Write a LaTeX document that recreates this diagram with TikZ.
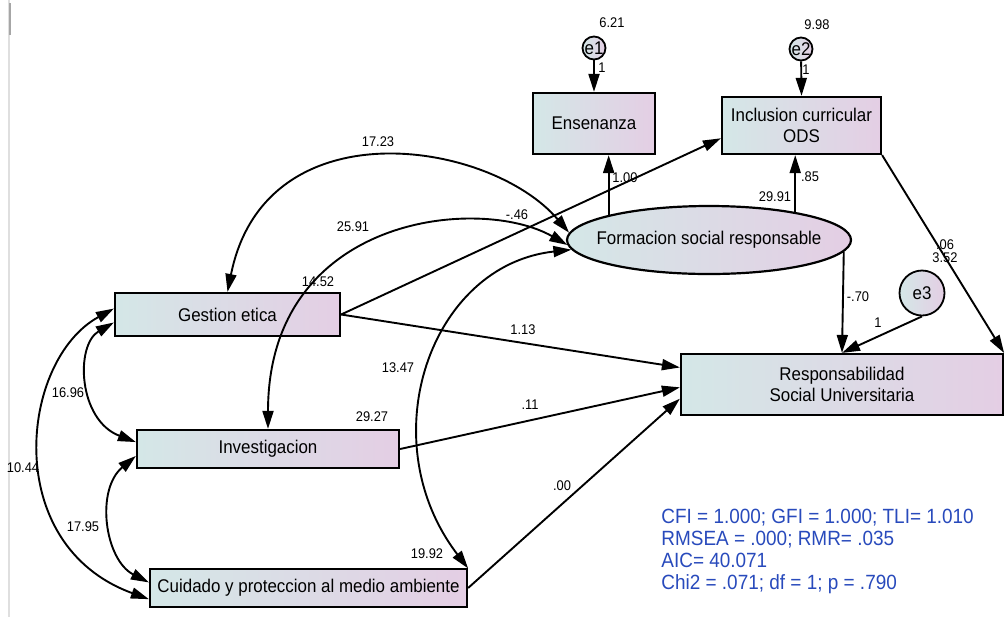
\documentclass[tikz,border=0pt]{standalone}
\usepackage{fontspec}
\setmainfont[FakeStretch=0.92]{Liberation Sans}
\usetikzlibrary{arrows.meta,shapes.geometric}

\definecolor{boxleft}{RGB}{212,231,231}
\definecolor{boxright}{RGB}{228,206,228}
\definecolor{fitblue}{RGB}{40,74,188}

\tikzset{
  obs/.style={draw, line width=1.1pt, left color=boxleft, right color=boxright,
    inner sep=0pt, align=center, font=\fontsize{9.2}{10.6}\selectfont},
  err/.style={circle, draw, line width=0.9pt, left color=boxleft, right color=boxright,
    inner sep=0pt, font=\fontsize{9.2}{10}\selectfont},
  num/.style={inner sep=0pt, font=\fontsize{7}{7.5}\selectfont},
  reg/.style={line width=0.95pt, -{Triangle[length=9pt,width=5.5pt]}},
  cov/.style={line width=0.95pt, {Triangle[length=9pt,width=5.5pt]}-{Triangle[length=9pt,width=5.5pt]}},
}

\begin{document}
\begin{tikzpicture}[x=0.5pt, y=-0.5pt]
    % 背景与边框
    \fill[white] (0,0) rectangle (1006,617);
    \useasboundingbox (0,0) rectangle (1006,617);
    \draw[gray!25, line width=0.6pt] (9,0) -- (9,617);
    \draw[gray!70, line width=0.8pt] (10,3) -- (10,35);

    % 观测变量
    \node[obs, minimum width=112.5pt, minimum height=21.5pt] (GE) at (227.5,314.5) {Gestion etica};
    \node[obs, minimum width=131pt, minimum height=19pt] (INV) at (268,449) {Investigacion};
    \node[obs, minimum width=158.5pt, minimum height=19pt] (CUI) at (308.5,588) {Cuidado y proteccion al medio ambiente};
    \node[obs, minimum width=61pt, minimum height=30.5pt] (ENS) at (594,123.5) {Ensenanza};
    \node[obs, minimum width=79.5pt, minimum height=28.5pt] (ICO) at (801.5,125.5) {Inclusion curricular\\ODS};
    \node[obs, minimum width=161pt, minimum height=30.5pt] (RSU) at (842,384.5) {Responsabilidad\\Social Universitaria};

    % 潜变量
    \node[obs, ellipse, minimum width=142pt, minimum height=34pt] (FSR) at (709,240) {};
    \node[font=\fontsize{9.2}{10}\selectfont] (FSRt) at (FSR) {Formacion social responsable};

    % 误差项
    \node[err, minimum size=11.5pt] (e1) at (594,48) {e1};
    \node[err, minimum size=11.5pt] (e2) at (801,49) {e2};
    \node[err, minimum size=22.5pt] (e3) at (922,293) {e3};

    % 误差路径
    \draw[reg] (e1) -- (ENS.north);
    \draw[reg] (e2) -- (ICO.north);
    \draw[reg] (e3.south) -- (RSU.north);

    % 载荷与回归
    \draw[reg] (FSR.166) -- (FSR.166 |- ENS.south);
    \draw[reg] (FSR.18) -- (FSR.18 |- ICO.south);
    \draw[reg] (FSR.-5) -- (RSU.north);
    \draw[reg] (GE.east) -- (ICO.189);
    \draw[reg] (GE.east) -- (RSU.174);
    \draw[reg] (INV.east) -- (RSU.181);
    \draw[reg] (CUI.east) -- (RSU.185);
    \draw[reg] (ICO.south east) -- (RSU.11);

    % 协方差
    \draw[cov] (GE.north) .. controls (265,105) and (490,140) .. (FSR.177);
    \draw[cov] (INV.north) .. controls (268,215) and (480,195) .. (FSR.182);
    \draw[cov] (FSR.184) .. controls (430,265) and (370,440) .. (CUI.7);
    \draw[cov] (GE.184) .. controls (75,345) and (78,420) .. (INV.177);
    \draw[cov] (GE.177) .. controls (20,360) and (0,545) .. (CUI.184);
    \draw[cov] (INV.183) .. controls (95,490) and (105,560) .. (CUI.178);

    % 系数
    \node[num] (v621) at (612,23) {6.21};
    \node[num] (w1) at (602,68) {1};
    \node[num] (v998) at (817,25) {9.98};
    \node[num] (w2) at (806,70) {1};
    \node[num] (b100) at (625,178) {1.00};
    \node[num] (b85) at (810,177) {.85};
    \node[num] (v2991) at (775,197) {29.91};
    \node[num] (c1723) at (378,142) {17.23};
    \node[num] (c2591) at (353,227) {25.91};
    \node[num] (b46) at (517,215) {-.46};
    \node[num] (v1452) at (318,282) {14.52};
    \node[num] (c1347) at (398,368) {13.47};
    \node[num] (b113) at (523,330) {1.13};
    \node[num] (b11) at (530,405) {.11};
    \node[num] (b00) at (562,486) {.00};
    \node[num] (v2927) at (372,417) {29.27};
    \node[num] (v1992) at (427,554) {19.92};
    \node[num] (c1696) at (68,393) {16.96};
    \node[num] (c1044) at (23,468) {10.44};
    \node[num] (c1795) at (83,527) {17.95};
    \node[num] (b70) at (858,297) {-.70};
    \node[num] (w3) at (878,323) {1};
    \node[num] (b06) at (945,245) {.06};
    \node[num] (v352) at (945,258) {3.52};

    % 拟合指标
    \node[anchor=west, align=left, inner sep=0pt, text=fitblue,
      font=\fontsize{10.3}{11}\selectfont] (fit) at (661,551)
      {CFI = 1.000; GFI = 1.000; TLI= 1.010\\RMSEA = .000; RMR= .035\\AIC= 40.071\\Chi2 = .071; df = 1; p = .790};
\end{tikzpicture}
\end{document}
